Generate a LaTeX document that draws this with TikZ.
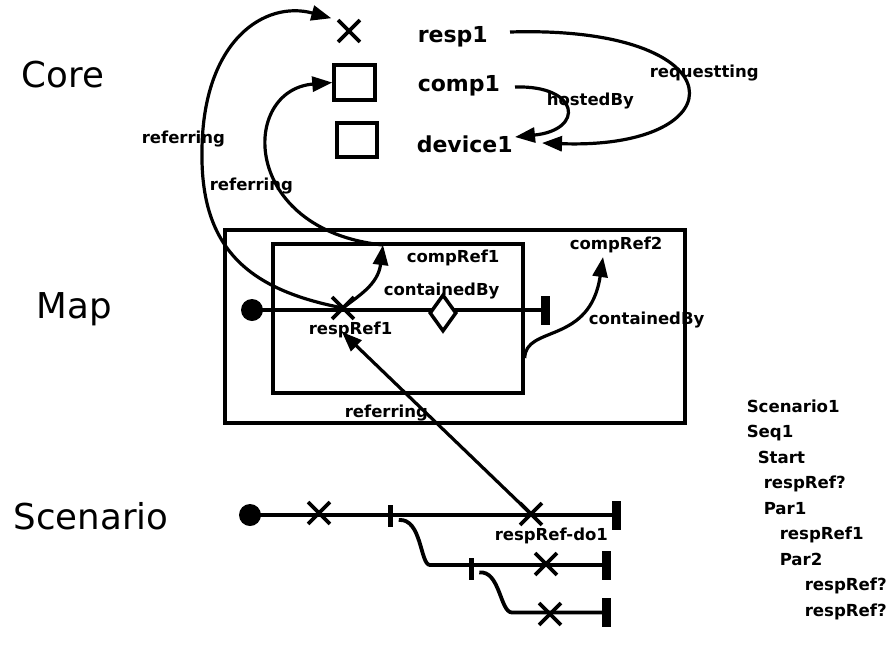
\documentclass[tikz,border=0pt]{standalone}
\usepackage{fontspec}
\setmainfont{DejaVu Sans}
\usetikzlibrary{arrows.meta,shapes.misc,shapes.geometric,calc}
\begin{document}
\begin{tikzpicture}[x=1pt,y=-1pt,line width=3.5pt,
  big/.style={font=\fontsize{35.6}{40}\selectfont, anchor=base west, inner sep=0pt},
  corelab/.style={font=\fontsize{22}{25}\selectfont\bfseries, anchor=base west, inner sep=0pt},
  lab/.style={font=\fontsize{16.5}{19}\selectfont\bfseries, anchor=base west, inner sep=0pt},
  lst/.style={font=\fontsize{16.6}{19}\selectfont\bfseries, anchor=base west, inner sep=0pt},
  xmark/.style={draw, cross out, minimum width=18pt, minimum height=18pt, inner sep=0pt, line width=3.8pt},
  box/.style={draw, rectangle, inner sep=0pt, line width=3.5pt},
  dot/.style={circle, fill, inner sep=0pt, minimum size=22pt},
  endbar/.style={rectangle, fill, inner sep=0pt, minimum width=9pt, minimum height=29pt},
  forkbar/.style={rectangle, fill, inner sep=0pt, minimum width=5pt, minimum height=22pt},
  conn/.style={line width=3.2pt, -{Triangle[length=20pt,width=15pt]}},
  plain/.style={line width=3.8pt},
]
\path[use as bounding box] (0,0) rectangle (891,654);

% layer labels
\node[big] (core) at (20,87) {Core};
\node[big] (map) at (35,318) {Map};
\node[big] (scen) at (12,529) {Scenario};

% ---------- Core ----------
\node[xmark] (xresp1) at (349,31) {};
\node[box, minimum width=41pt, minimum height=35pt] (bcomp1) at (354.5,82.5) {};
\node[box, minimum width=40pt, minimum height=34pt] (bdev1) at (357,140) {};
\node[corelab] (resp1) at (416,42) {resp1};
\node[corelab] (comp1) at (416,91) {comp1};
\node[corelab] (dev1) at (415,152) {device1};
\coordinate (resp1out) at (510,32);
\coordinate (comp1out) at (515,87);
\coordinate (dev1inA) at (515,137);
\coordinate (dev1inB) at (542,143);
\node[lab] (lreq) at (648,77) {requestting};
\node[lab] (lhost) at (545,105) {hostedBy};
\draw[conn] (resp1out) .. controls (740,25) and (740,150) .. (dev1inB);
\draw[conn] (comp1out) .. controls (580,85) and (585,130) .. (dev1inA);

% ---------- Map ----------
\node[box, minimum width=460pt, minimum height=193pt] (outer) at (455,326.5) {};
\node[box, minimum width=250pt, minimum height=149pt] (inner) at (398,318.5) {};
\node[dot] (mstart) at (252,310) {};
\node[endbar] (mend) at (545.5,310) {};
\draw[plain] (mstart.center) -- (mend.center);
\node[diamond, draw, fill=white, minimum width=27pt, minimum height=37pt, inner sep=0pt, line width=3.5pt] (dia) at (443,313) {};
\node[xmark] (rr1) at (343,308) {};
\coordinate (cr1) at (383,245);
\coordinate (cr2) at (603,257);
\coordinate (rr1ref) at (342,332);
\node[lab] (lcr1) at (405,262) {compRef1};
\node[lab] (lcb1) at (382,295) {containedBy};
\node[lab] (lcr2) at (568,249) {compRef2};
\node[lab] (lcb2) at (587,324) {containedBy};
\node[lab] (lrr1) at (307,334) {respRef1};
\node[lab] (lref3) at (343,417) {referring};
\node[lab] (lref1) at (140,143) {referring};
\node[lab] (lref2) at (208,190) {referring};
\draw[conn] (rr1.center) .. controls +(15,-12) and +(-5,40) .. (cr1);
\draw[conn] ($(inner.south east)!0.24!(inner.north east)$) .. controls (525,325) and (590,345) .. (cr2);
\draw[conn] (cr1) .. controls (240,230) and (240,90) .. (bcomp1.west);
\draw[conn, shorten >=7pt] (rr1.center) .. controls (250,290) and (200,250) .. (202,150) .. controls (203,40) and (265,0) .. (xresp1.north west);

% ---------- Scenario ----------
\node[dot] (sstart) at (250,515) {};
\node[endbar] (send1) at (616.5,515) {};
\draw[plain] (sstart.center) -- (send1.center);
\node[xmark] (sx1) at (319,513) {};
\node[forkbar] (fork1) at (390.5,516) {};
\node[xmark] (rrdo1) at (531,514) {};
\node[lab] (lrrdo1) at (493,540) {respRef-do1};
\node[endbar] (send2) at (606,565) {};
\node[forkbar] (fork2) at (471,568.5) {};
\draw[plain] ($(fork1.east)+(4,4)$) .. controls (422,518) and (420,565) .. (430,565) -- (send2.center);
\node[xmark] (sx2) at (546,564) {};
\node[endbar] (send3) at (606.5,612.5) {};
\draw[plain] ($(fork2.east)+(4,4)$) .. controls (500,570) and (500,612.5) .. (512,612.5) -- (send3.center);
\node[xmark] (sx3) at (550,614) {};
\draw[conn] (rrdo1.center) -- (rr1ref);

% ---------- outline list ----------
\node[lst] (t1) at (745,412) {Scenario1};
\node[lst] (t2) at (745,437.5) {Seq1};
\node[lst] (t3) at (756,463) {Start};
\node[lst] (t4) at (762,488.5) {respRef?};
\node[lst] (t5) at (762,514) {Par1};
\node[lst] (t6) at (778,539.5) {respRef1};
\node[lst] (t7) at (778,565) {Par2};
\node[lst] (t8) at (803,590.5) {respRef?};
\node[lst] (t9) at (803,616) {respRef?};
\end{tikzpicture}
\end{document}
